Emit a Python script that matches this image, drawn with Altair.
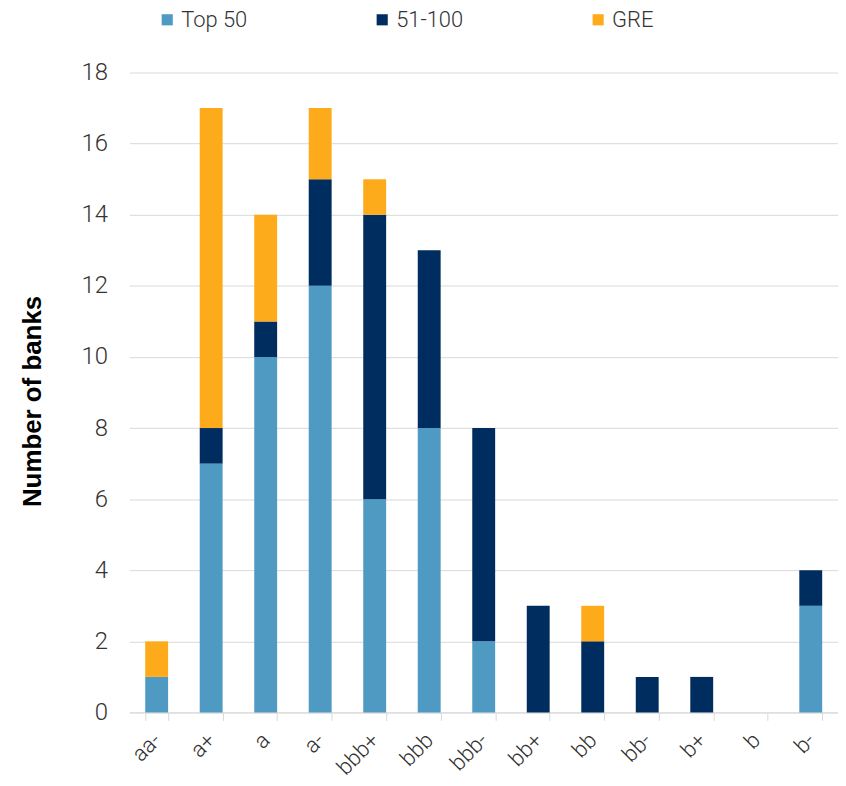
import altair as alt
import pandas as pd

ratings = ["aa-", "a+", "a", "a-", "bbb+", "bbb", "bbb-", "bb+", "bb", "bb-", "b+", "b", "b-"]
top50 = [1, 7, 10, 12, 6, 8, 2, 0, 0, 0, 0, 0, 3]
mid = [0, 1, 1, 3, 8, 5, 6, 3, 2, 1, 1, 0, 1]
gre = [1, 9, 3, 2, 1, 0, 0, 0, 1, 0, 0, 0, 0]
series = ["Top 50", "51-100", "GRE"]
colors = ["#4f9ac3", "#002d5f", "#fdab1b"]

rows = []
for i, r in enumerate(ratings):
    for k, (s, vals) in enumerate(zip(series, [top50, mid, gre])):
        rows.append({"rating": r, "series": s, "value": vals[i], "order": k})
df = pd.DataFrame(rows)

FONT = "Roboto"

chart = alt.Chart(df).mark_bar().encode(
    x=alt.X("rating:N", sort=ratings, title=None,
            scale=alt.Scale(paddingInner=0.58, paddingOuter=0.29),
            axis=alt.Axis(labelAngle=-45, labelAlign="right", labelBaseline="middle",
                          tickBand="extent", tickSize=8, tickColor="#d9d9d9",
                          domainColor="#d9d9d9", labelFontSize=22, labelFont=FONT,
                          labelFontWeight=300, labelColor="#333333", labelPadding=16)),
    y=alt.Y("value:Q", stack="zero", title="Number of banks",
            scale=alt.Scale(domain=[0, 18]),
            axis=alt.Axis(values=list(range(0, 19, 2)), domain=False, ticks=False,
                          gridColor="#d9d9d9", labelFontSize=24, labelFont=FONT,
                          labelFontWeight=300, labelColor="#333333", labelPadding=22,
                          titleFontSize=26, titleFont="Liberation Sans", titleFontWeight="bold",
                          titleColor="#000000", titleX=-97, titleY=330,
                          titleBaseline="middle", titleAngle=-90)),
    color=alt.Color("series:N", sort=series,
                    scale=alt.Scale(domain=series, range=colors),
                    legend=alt.Legend(title=None, orient="none", direction="horizontal",
                                      legendX=27, legendY=-64, symbolType="square",
                                      symbolSize=125, symbolStrokeWidth=0,
                                      labelFontSize=22, labelFont=FONT, labelFontWeight=300,
                                      labelColor="#333333", columnPadding=124,
                                      symbolOffset=0, labelOffset=3)),
    order=alt.Order("order:Q"),
).properties(
    width=712, height=643,
    autosize=alt.AutoSizeParams(type="none"),
    padding={"left": 122, "top": 63, "right": 0, "bottom": 64},
).configure_view(stroke=None)

chart.save("out.html", embed_options={"renderer": "svg", "actions": False})
